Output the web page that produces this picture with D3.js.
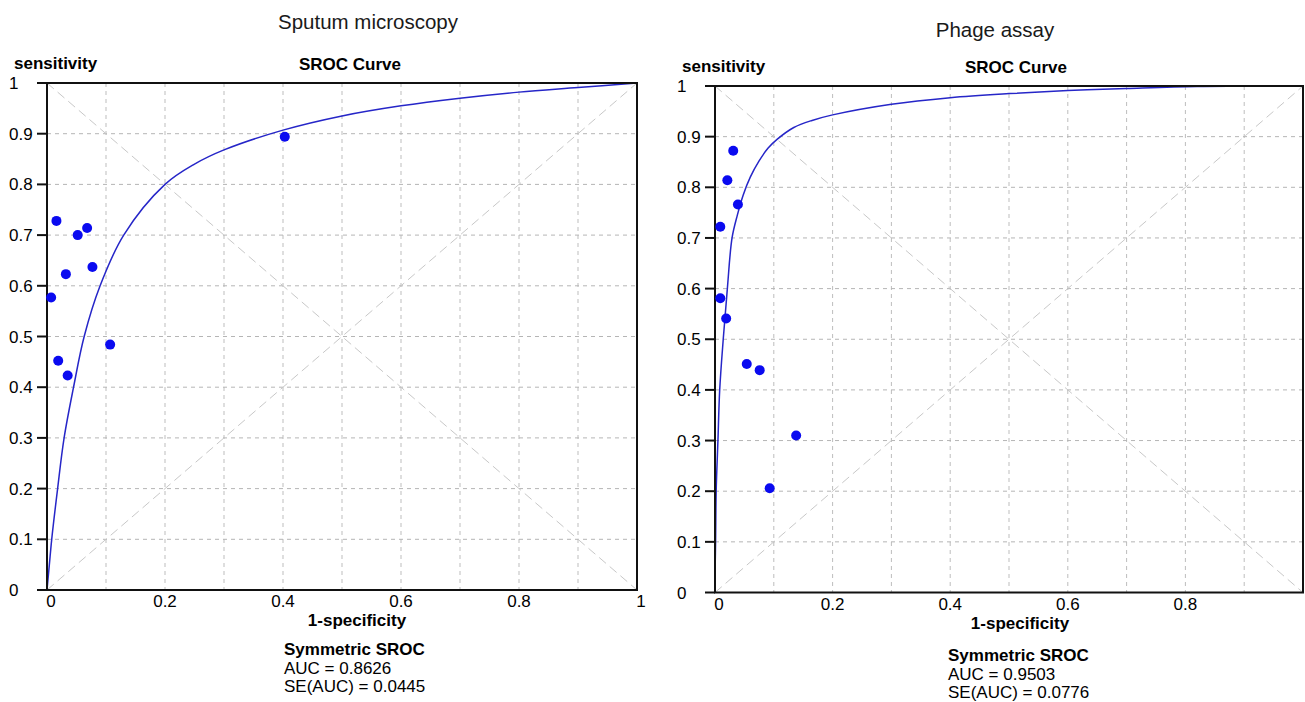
<!DOCTYPE html>
<html lang="en">
<head>
<meta charset="UTF-8">
<title>SROC curves</title>
<script src="https://d3js.org/d3.v7.min.js"></script>
<style>
    body { margin: 0; background: #fff; }
    text { font-family: "Liberation Sans", Arial, sans-serif; fill: #000; }
</style>
</head>
<body>
<div id="chart"></div>
<script>
    // Study points (1-specificity, sensitivity)
    var sputumFpr  = [0.007, 0.016, 0.032, 0.052, 0.068, 0.077, 0.107, 0.403, 0.019, 0.035];
    var sputumSens = [0.577, 0.728, 0.623, 0.700, 0.714, 0.637, 0.484, 0.894, 0.452, 0.423];

    var phageFpr  = [0.031, 0.021, 0.039, 0.009, 0.009, 0.019, 0.054, 0.076, 0.138, 0.093];
    var phageSens = [0.872, 0.814, 0.766, 0.722, 0.581, 0.541, 0.451, 0.439, 0.310, 0.206];

    // SROC curves, points
    var sputumCurveFpr  = [0, 0.004, 0.008, 0.018, 0.029, 0.045, 0.063, 0.09, 0.13, 0.2, 0.25, 0.3, 0.4, 0.5, 0.6, 0.7, 0.8, 0.9, 1];
    var sputumCurveSens = [0, 0.05, 0.1, 0.2, 0.3, 0.4, 0.5, 0.6, 0.7, 0.8, 0.84, 0.868, 0.907, 0.935, 0.955, 0.97, 0.982, 0.991, 1];

    var phageCurveFpr  = [0, 0.001, 0.002, 0.005, 0.008, 0.014, 0.021, 0.029, 0.038, 0.048, 0.06, 0.075, 0.09, 0.106, 0.134, 0.165, 0.2, 0.3, 0.4, 0.5, 0.6, 0.7, 0.82, 0.97];
    var phageCurveSens = [0.035, 0.1, 0.2, 0.3, 0.4, 0.5, 0.6, 0.7, 0.745, 0.785, 0.82, 0.852, 0.877, 0.895, 0.918, 0.932, 0.943, 0.964, 0.977, 0.985, 0.991, 0.995, 0.999, 1];

    // Axis ticks and labels
    var yTicks = [0, 0.1, 0.2, 0.3, 0.4, 0.5, 0.6, 0.7, 0.8, 0.9, 1];
    var gridTicks = [0.1, 0.2, 0.3, 0.4, 0.5, 0.6, 0.7, 0.8, 0.9];
    var sputumXTicks = [0, 0.2, 0.4, 0.6, 0.8, 1];
    var phageXTicks = [0, 0.2, 0.4, 0.6, 0.8];

    // Texts
    var panelTitles = ["Sputum microscopy", "Phage assay"];
    var aucValues = ["0.8626", "0.9503"];
    var seValues = ["0.0445", "0.0776"];

    var svg = d3.select("#chart")
        .append("svg")
        .attr("width", 1305)
        .attr("height", 702);

    function zip(a, b) {
        return a.map(function (d, i) { return [d, b[i]]; });
    }

    function drawPanel(p) {
        var x = d3.scaleLinear().domain([0, 1]).range([p.left, p.right]);
        var y = d3.scaleLinear().domain([0, 1]).range([p.bottom, p.top]);
        var g = svg.append("g");

        // dashed grid
        g.selectAll(".vgrid").data(gridTicks).enter().append("line")
            .attr("x1", function (d) { return x(d); })
            .attr("x2", function (d) { return x(d); })
            .attr("y1", p.top).attr("y2", p.bottom)
            .attr("stroke", "#bdbdbd").attr("stroke-width", 1)
            .attr("stroke-dasharray", "4,4");
        g.selectAll(".hgrid").data(gridTicks).enter().append("line")
            .attr("y1", function (d) { return y(d); })
            .attr("y2", function (d) { return y(d); })
            .attr("x1", p.left).attr("x2", p.right)
            .attr("stroke", "#b5b5b5").attr("stroke-width", 1)
            .attr("stroke-dasharray", "4,4");

        // diagonals
        g.selectAll(".diag").data([[0, 0, 1, 1], [0, 1, 1, 0]]).enter().append("line")
            .attr("x1", function (d) { return x(d[0]); })
            .attr("y1", function (d) { return y(d[1]); })
            .attr("x2", function (d) { return x(d[2]); })
            .attr("y2", function (d) { return y(d[3]); })
            .attr("stroke", "#c8c8c8").attr("stroke-width", 1)
            .attr("stroke-dasharray", "9,5");

        // SROC curve
        var line = d3.line()
            .x(function (d) { return x(d[0]); })
            .y(function (d) { return y(d[1]); })
            .curve(d3.curveCatmullRom.alpha(0.5));
        g.append("path")
            .datum(zip(p.curveFpr, p.curveSens))
            .attr("fill", "none")
            .attr("stroke", "#2626c8")
            .attr("stroke-width", 1.5)
            .attr("d", line);

        // frame
        g.append("rect")
            .attr("x", p.left).attr("y", p.top)
            .attr("width", p.right - p.left).attr("height", p.bottom - p.top)
            .attr("fill", "none").attr("stroke", "#111").attr("stroke-width", 2);

        // left ticks
        g.selectAll(".ytick").data(yTicks).enter().append("line")
            .attr("x1", p.left - 10).attr("x2", p.left)
            .attr("y1", function (d) { return y(d); })
            .attr("y2", function (d) { return y(d); })
            .attr("stroke", "#111").attr("stroke-width", 2);

        g.selectAll(".ylab").data(yTicks).enter().append("text")
            .attr("x", p.left - 38)
            .attr("y", function (d) { return y(d) + 6; })
            .style("font-size", "17px")
            .text(function (d) { return d3.format("~g")(d); });

        g.selectAll(".xlab").data(p.xTicks).enter().append("text")
            .attr("x", function (d) { return x(d) + (d === 0 || d === 1 ? 4 : 0); })
            .attr("y", p.bottom + 17)
            .attr("text-anchor", "middle")
            .style("font-size", "17px")
            .text(function (d) { return d3.format("~g")(d); });

        // points
        g.selectAll(".pt").data(zip(p.fpr, p.sens)).enter().append("circle")
            .attr("cx", function (d) { return x(d[0]); })
            .attr("cy", function (d) { return y(d[1]); })
            .attr("r", 5)
            .attr("fill", "#0a0af0");

        // labels
        g.append("text")
            .attr("x", p.titleX).attr("y", p.titleY)
            .attr("text-anchor", "middle")
            .style("font-size", "20.5px").style("fill", "#1a1a1a")
            .text(p.title);
        g.append("text")
            .attr("x", p.left - 33).attr("y", p.top - 14)
            .style("font-size", "17px").style("font-weight", "bold")
            .text("sensitivity");
        g.append("text")
            .attr("x", p.subX).attr("y", p.top - 13)
            .attr("text-anchor", "middle")
            .style("font-size", "17px").style("font-weight", "bold")
            .text("SROC Curve");
        g.append("text")
            .attr("x", p.xLabX).attr("y", p.bottom + 36)
            .attr("text-anchor", "middle")
            .style("font-size", "17px").style("font-weight", "bold")
            .text("1-specificity");

        g.append("text")
            .attr("x", p.statX).attr("y", p.statY)
            .style("font-size", "17px").style("font-weight", "bold")
            .text("Symmetric SROC");
        g.append("text")
            .attr("x", p.statX).attr("y", p.statY + 18.5)
            .style("font-size", "17px")
            .text("AUC = " + p.auc);
        g.append("text")
            .attr("x", p.statX).attr("y", p.statY + 37)
            .style("font-size", "17px")
            .text("SE(AUC) = " + p.se);
    }

    drawPanel({
        left: 47, right: 637, top: 83, bottom: 590,
        fpr: sputumFpr, sens: sputumSens,
        curveFpr: sputumCurveFpr, curveSens: sputumCurveSens,
        xTicks: sputumXTicks,
        title: panelTitles[0], titleX: 368, titleY: 29,
        subX: 350, xLabX: 357,
        statX: 284, statY: 655,
        auc: aucValues[0], se: seValues[0]
    });

    drawPanel({
        left: 715, right: 1303, top: 86, bottom: 592.5,
        fpr: phageFpr, sens: phageSens,
        curveFpr: phageCurveFpr, curveSens: phageCurveSens,
        xTicks: phageXTicks,
        title: panelTitles[1], titleX: 995, titleY: 37,
        subX: 1016, xLabX: 1020,
        statX: 948, statY: 661,
        auc: aucValues[1], se: seValues[1]
    });
</script>
</body>
</html>
